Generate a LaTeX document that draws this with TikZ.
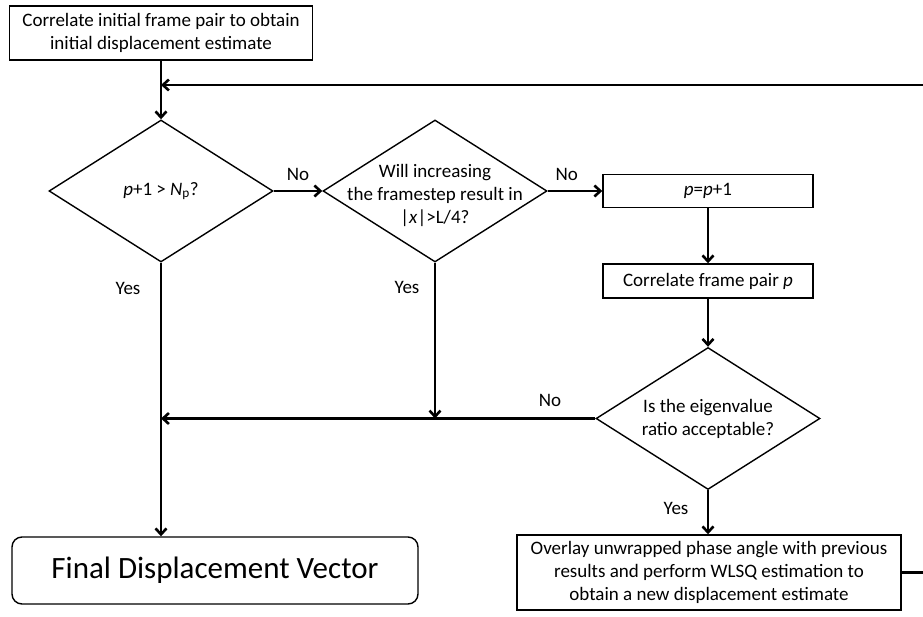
\documentclass[tikz,border=0pt]{standalone}
\usepackage{fontspec}
\setmainfont{Carlito}
\usetikzlibrary{shapes,arrows.meta}

\tikzset{
  process/.style={draw, line width=1.4pt, fill=white, align=center, inner sep=0pt, font=\fontsize{19}{23}\selectfont},
  decision/.style={diamond, draw, line width=1.4pt, inner sep=0pt, minimum width=224pt, minimum height=142pt},
  dtext/.style={align=center, inner sep=0pt, font=\fontsize{19}{23}\selectfont},
  flow/.style={line width=2.6pt, -{Straight Barb[length=6pt,width=11pt]}},
  answer/.style={inner sep=0pt, font=\fontsize{19}{22}\selectfont}
}

\begin{document}
\begin{tikzpicture}[x=1pt,y=-1pt]
      \useasboundingbox (0,0) rectangle (923,617);
      \clip (0,0) rectangle (923,617);
      % boxes
      \node [process, minimum width=303pt, minimum height=54pt] (init) at (161,33) {Correlate initial frame pair to obtain\\initial displacement estimate};
      \node [process, minimum width=210pt, minimum height=33pt] (incr) at (708,191) {\textit{p}=\textit{p}+1};
      \node [process, minimum width=210pt, minimum height=34pt] (corr) at (708,281) {Correlate frame pair \textit{p}};
      \node [process, minimum width=384pt, minimum height=75pt] (wlsq) at (709,572.5) {Overlay unwrapped phase angle with previous\\results and perform WLSQ estimation to\\obtain a new displacement estimate};
      \node [process, rounded corners=10pt, minimum width=406pt, minimum height=67pt, font=\fontsize{31}{36}\selectfont] (final) at (215,570.5) {Final Displacement Vector};
      % decisions
      \node [decision] (np) at (161,191) {};
      \node [dtext] (npt) at (np) {\textit{p}+1 > \textit{N}\textsubscript{p}?};
      \node [decision] (step) at (435,191) {};
      \node [dtext] (stept) at (435,195) {Will increasing\\the framestep result in\\|\textit{x}|>L/4?};
      \node [decision] (eig) at (708,418.5) {};
      \node [dtext] (eigt) at (eig) {Is the eigenvalue\\ratio acceptable?};
      % junctions
      \coordinate (merge) at (161,85);
      \coordinate (fbB) at (935,572.5);
      \coordinate (fbT) at (935,85);
      % connectors
      \draw [line width=2.6pt] (init.south) -- (merge);
      \draw [flow] (merge) -- (np.north);
      \draw [flow] (np.east) -- node [answer, above=9pt] (no1) {No} (step.west);
      \draw [flow] (step.east) -- node [answer, above=9pt, pos=0.35] (no2) {No} (incr.west);
      \draw [flow] (incr.south) -- (corr.north);
      \draw [flow] (corr.south) -- (eig.north);
      \draw [flow] (np.south) -- (final.north -| np.south);
      \draw [flow] (step.south) -- (step.south |- eig.west);
      \draw [flow] (eig.west) -- (eig.west -| np.south);
      \draw [flow] (eig.south) -- (wlsq.north -| eig.south);
      \draw [line width=2.6pt] (wlsq.east) -- (fbB) -- (fbT);
      \draw [flow] (fbT) -- (merge);
      % answers
      \node [answer] (yes1) at (128,288) {Yes};
      \node [answer] (yes2) at (407,287) {Yes};
      \node [answer] (no3) at (550,400) {No};
      \node [answer] (yes3) at (676,508) {Yes};
\end{tikzpicture}
\end{document}
